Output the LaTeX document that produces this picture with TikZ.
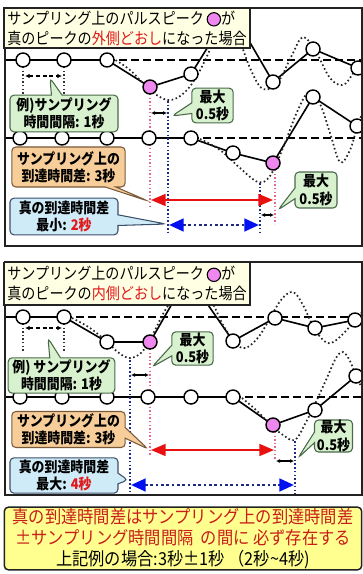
\documentclass[tikz,border=0pt]{standalone}
\usepackage{fontspec}
\newfontfamily\jp{Noto Sans CJK JP}[FakeStretch=0.88]
\newfontfamily\jpn{Noto Sans CJK JP}[FakeStretch=0.91]
\usetikzlibrary{shapes.callouts,arrows.meta}
\definecolor{pinkc}{HTML}{EE88EE}
\definecolor{framec}{HTML}{222222}
\definecolor{titlefill}{HTML}{FFFFE4}
\definecolor{gfill}{HTML}{D8F2CF}
\definecolor{gline}{HTML}{4A6A4A}
\definecolor{ofill}{HTML}{F7CE9A}
\definecolor{oline}{HTML}{7A5A3A}
\definecolor{bfill}{HTML}{D0EBF8}
\definecolor{bline}{HTML}{3A4F6A}
\definecolor{yfill}{HTML}{FFFF90}
\definecolor{redt}{HTML}{E01818}
\definecolor{darkred}{HTML}{C81E1A}
\definecolor{arrred}{HTML}{E81010}
\definecolor{navy}{HTML}{1F2A80}
\definecolor{bluehead}{HTML}{0010F0}
\definecolor{pinkline}{HTML}{E46A8A}
\newcommand{\pinkdot}{\tikz[baseline=-0.55ex]\draw[fill=pinkc,line width=0.8pt] (0,0) circle[radius=5pt];}
\begin{document}
\begin{tikzpicture}[x=0.75pt,y=-0.75pt,font=\jp,
  samp/.style={circle,draw=black,line width=1.1pt,fill=white,minimum size=10.5pt,inner sep=0pt},
  pk/.style={samp,fill=pinkc},
  trace/.style={line width=1.2pt,black},
  dashline/.style={line width=1.2pt,dash pattern=on 6pt off 3pt},
  truec/.style={line width=1.3pt,dash pattern=on 1.2pt off 1.9pt,black!85},
  vgray/.style={line width=1.1pt,dash pattern=on 1.1pt off 1.6pt,black!80},
  vpink/.style={line width=1.1pt,dash pattern=on 1.1pt off 1.6pt,pinkline},
  vnavy/.style={line width=1.2pt,dash pattern=on 1.2pt off 1.6pt,navy},
  frame/.style={draw=framec,line width=1.5pt},
  smallarr/.style={line width=0.8pt,{Latex[length=3pt,width=3pt]}-{Latex[length=3pt,width=3pt]}},
  exarr/.style={line width=0.8pt,dash pattern=on 3pt off 2pt,{Latex[length=3.5pt,width=3.5pt]}-{Latex[length=3.5pt,width=3.5pt]}},
  redarr/.style={line width=1.3pt,arrred,{Triangle[length=11pt,width=9pt]}-{Triangle[length=11pt,width=9pt]}},
  bluearr/.style={line width=2pt,navy,dash pattern=on 2pt off 2pt,{Triangle[length=11pt,width=9.5pt,fill=bluehead,color=bluehead]}-{Triangle[length=11pt,width=9.5pt,fill=bluehead,color=bluehead]}},
  co/.style={rectangle callout,rounded corners=3pt,line width=0.8pt,align=center,inner sep=0pt,
     font=\jp\bfseries\fontsize{11}{13}\selectfont,callout pointer width=8pt},
  gco/.style={co,fill=gfill,draw=gline},
  oco/.style={co,fill=ofill,draw=oline},
  bco/.style={co,fill=bfill,draw=bline},
  titlebox/.style={draw=framec,line width=1pt,fill=titlefill,align=left,inner sep=0pt,
     font=\jp\fontsize{12}{15}\selectfont},
]
\useasboundingbox (0,0) rectangle (363,574);
\fill[white] (0,0) rectangle (363,574);

% ================= TOP PANEL =================
\coordinate (A1) at (23,60);  \coordinate (A2) at (64,60);  \coordinate (A3) at (107,60);
\coordinate (A4) at (150,87); \coordinate (A5) at (191,74); \coordinate (A6) at (231,10);
\coordinate (A7) at (273,82); \coordinate (A8) at (313,49); \coordinate (A9) at (358,68);
\coordinate (A0) at (5,60);   \coordinate (AE) at (372,76); \coordinate (AD) at (362,60);
\coordinate (B1) at (20,138); \coordinate (B2) at (62,138); \coordinate (B3) at (107,138);
\coordinate (B4) at (149,138);\coordinate (B5) at (191,138);\coordinate (B6) at (233,153);
\coordinate (B7) at (273,163);\coordinate (B8) at (313,97); \coordinate (B9) at (357,126);
\coordinate (B0) at (5,138);  \coordinate (BE) at (372,134);\coordinate (BD) at (362,138);

\begin{scope}
\clip (5,8) rectangle (362,246);
\draw[trace] (A0) -- (A3);
\draw[dashline] (A3) -- (AD);
\draw[trace] (A3) -- (A4) -- (A5) -- (A6) -- (A7) -- (A8) -- (A9) -- (AE);
\draw[truec] plot[smooth,tension=0.6] coordinates {(112,58) (130,70) (150,90) (168,100) (184,93) (198,74) (212,45) (226,12) (236,30) (250,68) (263,89) (278,82) (292,55) (303,37) (316,52) (330,78) (343,85) (354,72) (364,55)};
\draw[trace] (B0) -- (B5);
\draw[dashline] (B5) -- (BD);
\draw[trace] (B5) -- (B6) -- (B7) -- (B8) -- (B9) -- (BE);
\draw[truec] plot[smooth,tension=0.6] coordinates {(200,139) (220,150) (240,168) (258,182) (270,176) (283,148) (297,112) (309,92) (320,104) (330,133) (340,162) (350,150) (358,124) (364,110)};
\end{scope}

% verticals
\draw[vgray] (23,67) -- (23,95);
\draw[vgray] (64,67) -- (64,95);
\draw[exarr] (25,76) -- (62,76);
\coordinate (P1t) at (150,94); \coordinate (P1b) at (150,208);
\coordinate (N1t) at (168,101); \coordinate (N1b) at (168,232);
\coordinate (P2t) at (275,170); \coordinate (P2b) at (275,224);
\coordinate (N2t) at (260,183); \coordinate (N2b) at (260,232);
\draw[vpink] (P1t) -- (P1b);
\draw[vnavy] (N1t) -- (N1b);
\draw[vpink] (P2t) -- (P2b);
\draw[vnavy] (N2t) -- (N2b);
\draw[smallarr] (151,113) -- (167,113);
\draw[smallarr] (261,215) -- (274,215);
\coordinate (R1a) at (151,200); \coordinate (R1b) at (273,200);
\draw[redarr] (R1a) -- (R1b);
\coordinate (L1a) at (169,225); \coordinate (L1b) at (259,225);
\draw[bluearr] (L1a) -- (L1b);

% circles
\foreach \n in {A1,A2,A3,A5,A7,A8,A9,B1,B2,B3,B4,B5,B6,B8,B9}{\node[samp] (c\n) at (\n) {};}
\node[pk] (cA4) at (A4) {};
\node[pk] (cB7) at (B7) {};

% callouts
\node[gco,minimum width=81pt,minimum height=27.5pt,callout absolute pointer={(50,78)}] (ex1) at (64,113.5) {例)サンプリング\\時間間隔: 1秒};
\node[gco,minimum width=31pt,minimum height=26pt,callout absolute pointer={(172,116)}] (mx1) at (212.5,105.5) {最大\\0.5秒};
\node[oco,minimum width=85pt,minimum height=30pt,callout absolute pointer={(148,201)}] (sa1) at (68.5,167) {サンプリング上の\\到達時間差: 3秒};
\node[bco,minimum width=81pt,minimum height=27.5pt,callout absolute pointer={(166,224)}] (tr1) at (64,216.5) {真の到達時間差\\最小: \textcolor{redt}{2秒}};
\node[gco,minimum width=31.5pt,minimum height=27pt,callout absolute pointer={(278,210)}] (mx2) at (316,190) {最大\\0.5秒};

\draw[frame] (5,8) rectangle (362,246);
\node[titlebox,minimum width=184.5pt,minimum height=30pt] (t1) at (127,28)
  {サンプリング上のパルスピーク\,\pinkdot が\\真のピークの\textcolor{redt}{外側どおし}になった場合};

% ================= BOTTOM PANEL =================
\coordinate (C1) at (23,317);  \coordinate (C2) at (64,317);  \coordinate (C3) at (107,342);
\coordinate (C4) at (150,342); \coordinate (C5) at (188,276); \coordinate (C6) at (233,341);
\coordinate (C7) at (275,318); \coordinate (C8) at (315,328); \coordinate (C9) at (355,320);
\coordinate (C0) at (5,317);   \coordinate (CE) at (372,316); \coordinate (CD) at (362,317);
\coordinate (D1) at (20,397);  \coordinate (D2) at (62,397);  \coordinate (D3) at (107,397);
\coordinate (D4) at (148,397); \coordinate (D5) at (191,397); \coordinate (D6) at (233,397);
\coordinate (D7) at (273,425); \coordinate (D8) at (315,410); \coordinate (D9) at (356,376);
\coordinate (D0) at (5,397);   \coordinate (DE) at (372,365); \coordinate (DD) at (362,397);

\begin{scope}
\clip (5,262) rectangle (362,495);
\draw[trace] (C0) -- (C2);
\draw[dashline] (C2) -- (CD);
\draw[trace] (C2) -- (C3) -- (C4) -- (C5) -- (C6) -- (C7) -- (C8) -- (C9) -- (CE);
\draw[truec] plot[smooth,tension=0.6] coordinates {(72,318) (90,328) (106,341) (119,353) (130,358) (142,352) (153,334) (163,314) (175,294) (190,268) (203,285) (214,306) (226,330) (242,348) (256,340) (268,322) (281,300) (293,292) (303,305) (312,324) (322,339) (331,343) (343,334) (356,319) (364,310)};
\draw[trace] (D0) -- (D6);
\draw[dashline] (D6) -- (DD);
\draw[trace] (D6) -- (D7) -- (D8) -- (D9) -- (DE);
\draw[truec] plot[smooth,tension=0.6] coordinates {(242,398) (256,410) (270,424) (283,435) (295,440) (305,424) (315,404) (326,380) (336,358) (343,352) (350,361) (356,376) (364,392)};
\end{scope}

\draw[vgray] (23,324) -- (23,352);
\draw[vgray] (64,324) -- (64,352);
\draw[exarr] (25,328) -- (62,328);
\coordinate (P3t) at (150,349); \coordinate (P3b) at (150,455);
\coordinate (N3t) at (130,360); \coordinate (N3b) at (130,494);
\coordinate (P4t) at (275,432); \coordinate (P4b) at (275,460);
\coordinate (N4t) at (295,441); \coordinate (N4b) at (295,494);
\draw[vpink] (P3t) -- (P3b);
\draw[vnavy] (N3t) -- (N3b);
\draw[vpink] (P4t) -- (P4b);
\draw[vnavy] (N4t) -- (N4b);
\draw[smallarr] (131,375) -- (149,375);
\draw[smallarr] (276,461) -- (294,461);
\coordinate (R2a) at (151,450); \coordinate (R2b) at (274,450);
\draw[redarr] (R2a) -- (R2b);
\coordinate (L2a) at (131,485); \coordinate (L2b) at (294,485);
\draw[bluearr] (L2a) -- (L2b);

\foreach \n in {C1,C2,C3,C6,C7,C8,C9,D1,D2,D3,D4,D5,D6,D8,D9}{\node[samp] (c\n) at (\n) {};}
\node[pk] (cC4) at (C4) {};
\node[pk] (cD7) at (D7) {};

\node[gco,minimum width=80pt,minimum height=26.5pt,callout absolute pointer={(48,338)}] (ex2) at (61.5,375.5) {例) サンプリング\\時間間隔: 1秒};
\node[gco,minimum width=31pt,minimum height=25pt,callout absolute pointer={(152,367)}] (mx3) at (192.5,348.5) {最大\\0.5秒};
\node[oco,minimum width=85pt,minimum height=27pt,callout absolute pointer={(148,449)}] (sa2) at (68.5,429.5) {サンプリング上の\\到達時間差: 3秒};
\node[bco,minimum width=81pt,minimum height=26.5pt,callout absolute pointer={(128,480)}] (tr2) at (64,475.5) {真の到達時間差\\最大: \textcolor{redt}{4秒}};
\node[gco,minimum width=28.5pt,minimum height=24pt,callout absolute pointer={(298,458)}] (mx4) at (333.5,436) {最大\\0.5秒};

\draw[frame] (5,262) rectangle (362,495);
\node[titlebox,minimum width=184.5pt,minimum height=32pt] (t2) at (127,283.5)
  {サンプリング上のパルスピーク\,\pinkdot が\\真のピークの\textcolor{redt}{内側どおし}になった場合};

% ================= BOTTOM NOTE =================
\node[draw=framec,line width=1.1pt,rounded corners=3pt,fill=yfill,align=center,inner sep=0pt,
  minimum width=268pt,minimum height=47pt,font=\jpn\fontsize{13.4}{15.8}\selectfont] (note) at (183,538.5)
  {\textcolor{darkred}{真の到達時間差はサンプリング上の到達時間差}\\
   \textcolor{darkred}{±サンプリング時間間隔\ \ の間に 必ず存在する}\\
   上記例の場合:3秒±1秒 （2秒\textasciitilde 4秒)};
\end{tikzpicture}
\end{document}
